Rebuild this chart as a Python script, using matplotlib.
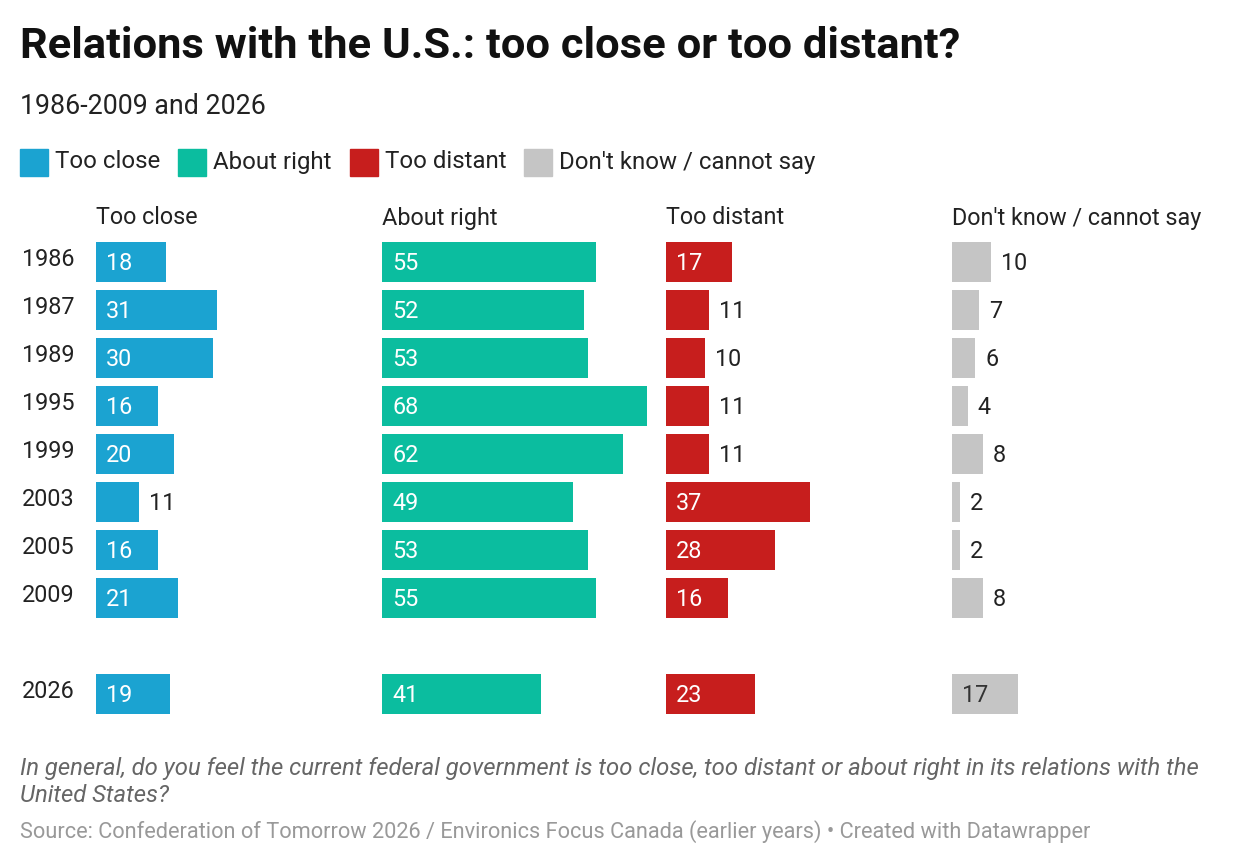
import matplotlib.pyplot as plt

plt.rcParams['font.family'] = ['Roboto', 'DejaVu Sans']

years = ['1986', '1987', '1989', '1995', '1999', '2003', '2005', '2009', '2026']
too_close = [18, 31, 30, 16, 20, 11, 16, 21, 19]
about_right = [55, 52, 53, 68, 62, 49, 53, 55, 41]
too_distant = [17, 11, 10, 11, 11, 37, 28, 16, 23]
dont_know = [10, 7, 6, 4, 8, 2, 2, 8, 17]

series_names = ['Too close', 'About right', 'Too distant', "Don't know / cannot say"]
colors = ['#1ba3d1', '#0bbd9f', '#c71e1d', '#c5c5c5']
inside_text = ['white', 'white', 'white', '#333333']

# pixel layout
col_left = [96, 382, 666, 952]
px_per_unit = 3.89
row_y = [262, 310, 358, 406, 454, 502, 550, 598, 694]
bar_h = 40

fig = plt.figure(figsize=(12.4, 8.66), dpi=100)
ax = fig.add_axes([0, 0, 1, 1])
ax.set_xlim(0, 1240)
ax.set_ylim(866, 0)
ax.axis('off')

for i, vals in enumerate([too_close, about_right, too_distant, dont_know]):
    widths = [v * px_per_unit for v in vals]
    ax.barh(row_y, widths, left=col_left[i], height=bar_h, color=colors[i])
    ax.text(col_left[i], 218, series_names[i], fontsize=16.8, color='#222222',
            va='center', ha='left')
    for y, v, w in zip(row_y, vals, widths):
        if v >= 16:
            ax.text(col_left[i] + 10, y + 1, str(v), color=inside_text[i],
                    fontsize=16.8, va='center', ha='left')
        else:
            ax.text(col_left[i] + w + 10, y + 1, str(v), color='#222222',
                    fontsize=16.8, va='center', ha='left')

for y, yr in zip(row_y, years):
    ax.text(22, y - 2, yr, fontsize=16.8, color='#222222', va='center', ha='left')

# title, subtitle
ax.text(20, 46, 'Relations with the U.S.: too close or too distant?',
        fontsize=31.3, fontweight='bold', color='#111111', va='center')
ax.text(20, 106, '1986-2009 and 2026', fontsize=19.3, color='#222222', va='center')

# legend
lx = [20, 178, 350, 524]
for x, name, c in zip(lx, series_names, colors):
    ax.add_patch(plt.Rectangle((x, 149), 28, 27, color=c))
    ax.text(x + 35, 162, name, fontsize=17.3, color='#222222', va='center')

ax.text(20, 768, 'In general, do you feel the current federal government is too close, '
        'too distant or about right in its relations with the', fontsize=17.2,
        style='italic', color='#666666', va='center')
ax.text(20, 796, 'United States?', fontsize=17.2, style='italic', color='#666666',
        va='center')
ax.text(20, 832, 'Source: Confederation of Tomorrow 2026 / Environics Focus Canada '
        '(earlier years) • Created with Datawrapper', fontsize=15.7,
        color='#999999', va='center')

fig.savefig('out.png', dpi=100)
